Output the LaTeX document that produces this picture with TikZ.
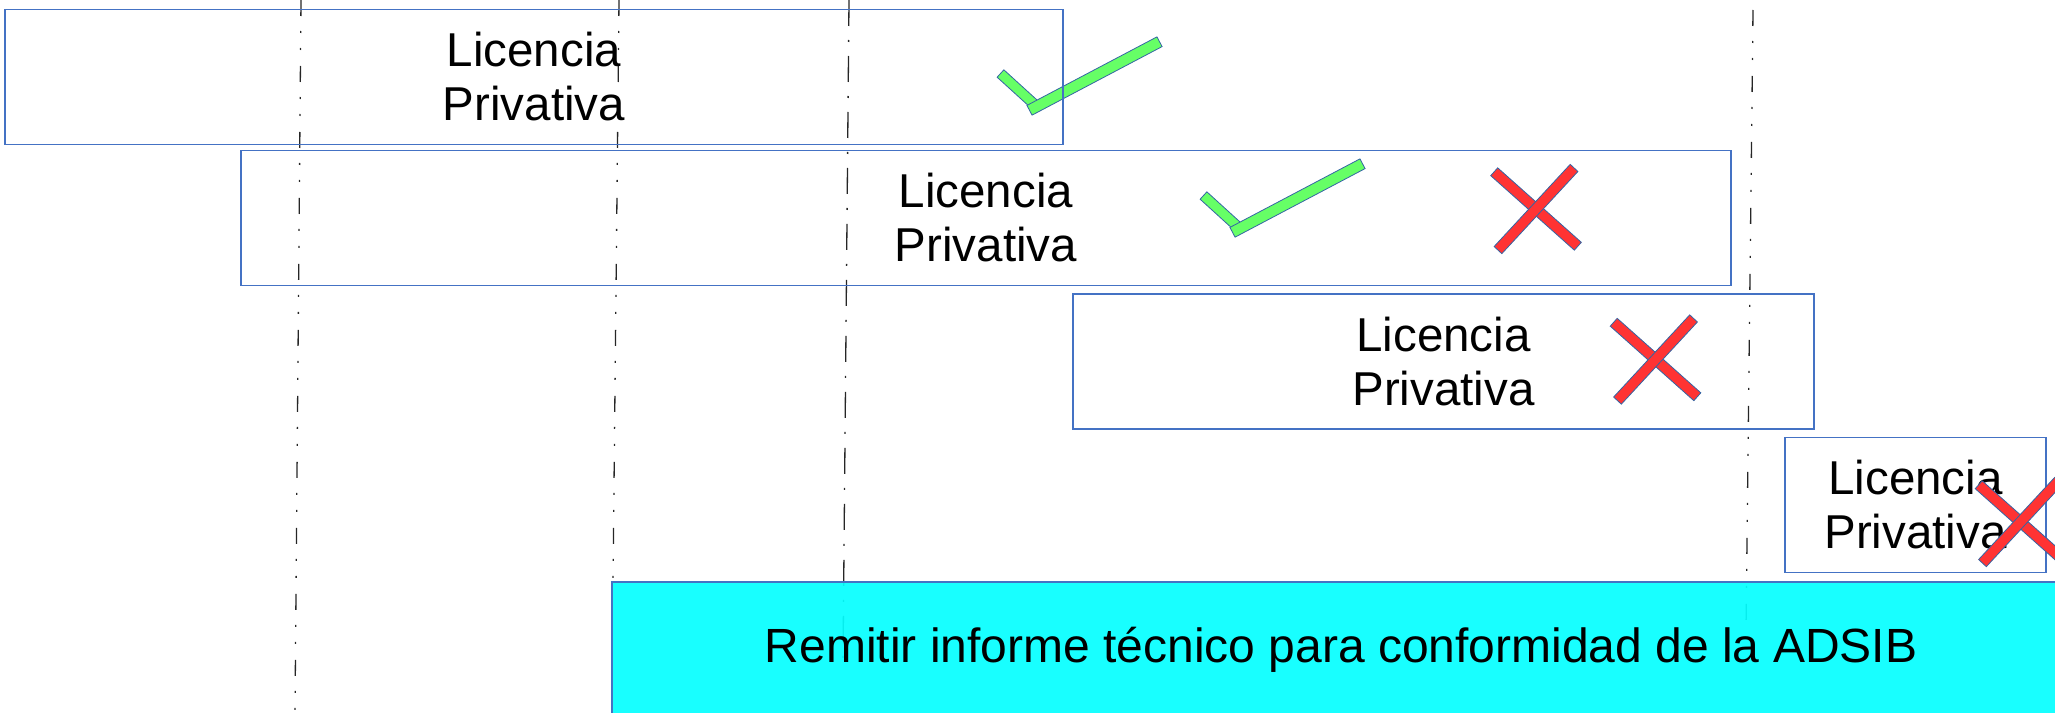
\documentclass[tikz,border=0pt]{standalone}
\usepackage{fontspec}
\setmainfont{Liberation Sans}
\usetikzlibrary{shapes.misc}
\definecolor{borde}{RGB}{68,114,196}
\definecolor{canto}{RGB}{52,101,164}
\definecolor{verde}{RGB}{102,255,102}
\definecolor{rojo}{RGB}{255,51,51}
\definecolor{cian}{RGB}{4,255,255}

\begin{document}
\begin{tikzpicture}[x=1pt, y=1pt, yscale=-1,
    licencia/.style={draw=borde, line width=1.2pt, inner sep=0pt, align=center,
        font=\fontsize{47.5}{54}\selectfont, minimum height=135pt},
    bien/.style={draw=canto, fill=verde, line width=0.8pt, inner sep=0pt, minimum height=10pt},
    mal/.style={draw=canto, fill=rojo, line width=0.8pt, inner sep=0pt, minimum height=10.5pt, minimum width=112pt},
    guia/.style={line width=1.3pt, black!85, dash pattern=on 16pt off 15pt on 2pt off 15pt on 2pt off 16pt},
    guialarga/.style={line width=1.3pt, black!85, dash pattern=on 26pt off 14pt on 2pt off 14pt}]
        \useasboundingbox (0,0) rectangle (2055,712);

		% lineas de referencia
		\draw[guia] (301,0) -- (295,712);
		\draw[guia] (619,0) -- (613,582);
		\draw[guialarga] (849,0) -- (843,660);
		\draw[guia] (1753,10) -- (1746,630);

		% visto bueno
		\node[bien, minimum width=46pt, rotate=-42.3] (V1a) at (1017.5,89) {};
		\node[bien, minimum width=147pt, minimum height=11pt, rotate=27.8] (V1b) at (1094.5,76) {};
		\node[bien, minimum width=46pt, rotate=-42.3] (V2a) at (1220.5,211) {};
		\node[bien, minimum width=147pt, minimum height=11pt, rotate=27.8] (V2b) at (1297.5,198) {};

		\node[licencia, minimum width=1058pt] (L1) at (534,77) {Licencia\\Privativa};
		\node[licencia, minimum width=1490pt] (L2) at (986,218) {Licencia\\Privativa};
		\node[licencia, minimum width=741pt] (L3) at (1443.5,361.5) {Licencia\\Privativa};
		\node[licencia, minimum width=261pt] (L4) at (1915.5,505) {Licencia\\Privativa};

		\node[draw=borde, line width=1.2pt, fill=cian, fill opacity=0.92, text opacity=1,
		    inner sep=0pt, minimum width=1458pt, minimum height=136pt,
		    font=\fontsize{48}{54}\selectfont] (R) at (1341,650) {Remitir informe técnico para conformidad de la ADSIB};

		% cruces
		\node[mal, rotate=-41.7] (X1a) at (1536,209) {};
		\node[mal, rotate=47.2] (X1b) at (1536,209) {};
		\node[mal, rotate=-41.7] (X2a) at (1655.5,359.5) {};
		\node[mal, rotate=47.2] (X2b) at (1655.5,359.5) {};
		\node[mal, rotate=-41.7] (X3a) at (2020.5,522) {};
		\node[mal, rotate=47.2] (X3b) at (2020.5,522) {};
\end{tikzpicture}
\end{document}
